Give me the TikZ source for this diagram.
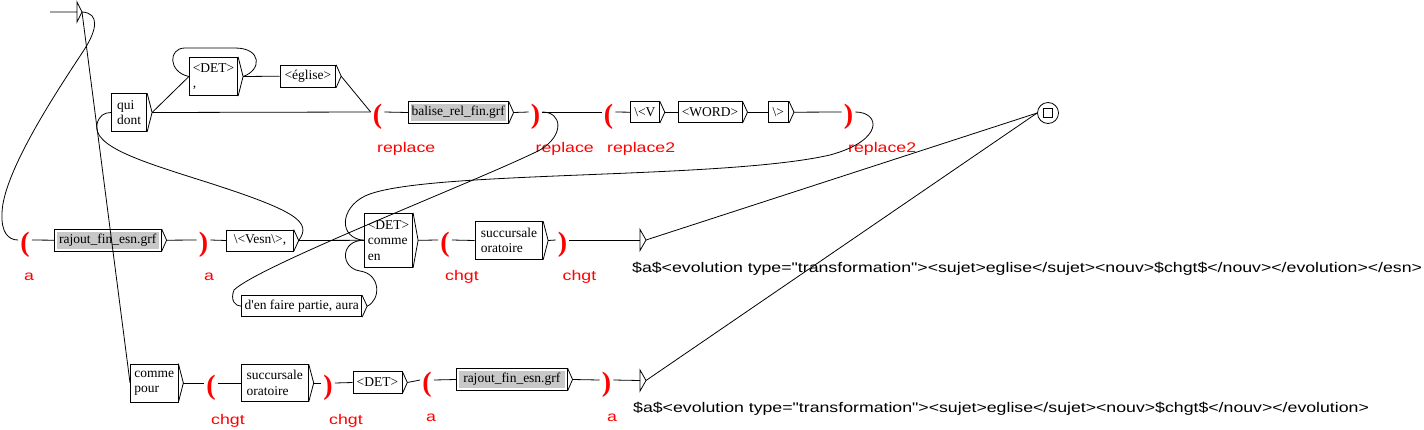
\documentclass[tikz,border=0pt]{standalone}
\usepackage{fontspec}
\newfontfamily\boxfont{Liberation Serif}
\newfontfamily\labfont[FakeStretch=1.265]{Liberation Sans}
\newfontfamily\parfont{Liberation Serif}
\definecolor{gfill}{RGB}{200,200,200}
\tikzset{
  ln/.style={line width=0.8pt},
  ubox/.style={draw, fill=white, line width=0.8pt, inner sep=0pt, align=left,
    font=\boxfont\fontsize{13.5}{15.5}\selectfont},
  gbox/.style={ubox, path picture={\fill[gfill]
      ([xshift=2.5pt,yshift=-2.5pt]path picture bounding box.north west) rectangle
      ([xshift=-2.5pt,yshift=2.5pt]path picture bounding box.south east);}},
  vpar/.style={text=red, inner xsep=2pt, inner ysep=0pt, text height=22.4pt, text depth=0pt,
    font=\parfont\bfseries\fontsize{28}{28}\selectfont},
  vlab/.style={text=red, anchor=base west, inner sep=0pt, font=\labfont\fontsize{14}{16}\selectfont},
  outtxt/.style={anchor=base west, inner sep=0pt, font=\labfont\fontsize{14}{16}\selectfont},
}
\begin{document}
\begin{tikzpicture}[x=1pt, y=-1pt]
\useasboundingbox (0,0) rectangle (1424,429);

% initial state
\coordinate (itip) at (82,12);
\draw[ln] (50,12) -- (77,12) (77,2) -- (itip) -- (77,22) -- cycle;

% top row
\node[ubox, minimum width=35.4pt, minimum height=38pt] (qd) at (129,112.5) {qui\\dont};
\node[ubox, minimum width=48.4pt, minimum height=38.4pt] (det1) at (213.5,76.5) {<DET>\\,};
\node[ubox, minimum width=55.7pt, minimum height=22pt] (eg) at (307.9,76.2) {<église>};
\node[gbox, minimum width=100pt, minimum height=21.6pt] (bal) at (458.2,112.5) {balise\_rel\_fin.grf};
\node[ubox, minimum width=29pt, minimum height=21pt] (vv) at (644.9,112.2) {\textbackslash<V};
\node[ubox, minimum width=64.2pt, minimum height=21pt] (word) at (710,112.2) {<WORD>};
\node[ubox, minimum width=20.4pt, minimum height=21pt] (bs) at (778.4,112.2) {\textbackslash>};

% middle row
\node[gbox, minimum width=107pt, minimum height=21.7pt] (raj1) at (107.7,240.2) {rajout\_fin\_esn.grf};
\node[ubox, minimum width=66.6pt, minimum height=21pt] (vesn) at (260,240.5) {\textbackslash<Vesn\textbackslash>,};
\node[ubox, minimum width=48.4pt, minimum height=54pt] (dce) at (388.5,240.3) {<DET>\\comme\\en};
\node[ubox, minimum width=67.7pt, minimum height=37.6pt] (succ1) at (508.9,240.5) {succursale\\oratoire};
\node[ubox, minimum width=120pt, minimum height=21pt] (dfp) at (301.7,306.2) {d'en faire partie, aura};

% bottom row
\node[ubox, minimum width=47.5pt, minimum height=38pt] (cp) at (154.2,383) {comme\\pour};
\node[ubox, minimum width=67pt, minimum height=37pt] (succ2) at (274.8,383) {succursale\\oratoire};
\node[ubox, minimum width=49pt, minimum height=21.6pt] (det2) at (377.4,382.5) {<DET>};
\node[gbox, minimum width=110.7pt, minimum height=22pt] (raj2) at (511.8,379.5) {rajout\_fin\_esn.grf};

% box arrow tips
\foreach \n in {qd,det1,eg,bal,vv,word,bs,raj1,vesn,dce,succ1,dfp,cp,succ2,det2,raj2}
  \draw[ln] (\n.north east) -- ([xshift=5pt]\n.east) -- (\n.south east);

% variable parentheses
\node[vpar] (pr1) at (377.5,112) {(};
\node[vpar] (cr1) at (535.5,112) {)};
\node[vpar] (pr2) at (608.5,112) {(};
\node[vpar] (cr2) at (848.5,112) {)};
\node[vpar] (pa1) at (25,240) {(};
\node[vpar] (ca1) at (203.5,240) {)};
\node[vpar] (pc1) at (445,240) {(};
\node[vpar] (cc1) at (562.5,240) {)};
\node[vpar] (pc2) at (211,383) {(};
\node[vpar] (cc2) at (328,383) {)};
\node[vpar] (pa2) at (427,380) {(};
\node[vpar] (ca2) at (606.5,380) {)};

% variable names
\node[vlab] (lr1) at (377,152.5) {replace};
\node[vlab] (lr2) at (535.5,152.5) {replace};
\node[vlab] (lr3) at (607,152.5) {replace2};
\node[vlab] (lr4) at (848,152.5) {replace2};
\node[vlab] (la1) at (24,280.5) {a};
\node[vlab] (la2) at (204,280.5) {a};
\node[vlab] (lc1) at (445,280.5) {chgt};
\node[vlab] (lc2) at (562.5,280.5) {chgt};
\node[vlab] (lc3) at (211,424) {chgt};
\node[vlab] (lc4) at (329,424) {chgt};
\node[vlab] (la3) at (426,421.5) {a};
\node[vlab] (la4) at (607,421.5) {a};

% output boxes
\coordinate (o1) at (640,240);
\coordinate (o1t) at (646,240);
\draw[ln] (640,229.5) -- (o1t) -- (640,250.5) -- cycle;
\node[outtxt] (t1) at (632,272) {\$a\$<evolution type="transformation"><sujet>eglise</sujet><nouv>\$chgt\$</nouv></evolution></esn>};
\coordinate (o2) at (640,380.5);
\coordinate (o2t) at (646,380.5);
\draw[ln] (640,370) -- (o2t) -- (640,391) -- cycle;
\node[outtxt] (t2) at (633,412.5) {\$a\$<evolution type="transformation"><sujet>eglise</sujet><nouv>\$chgt\$</nouv></evolution>};

% final state
\node[circle, draw, ln, minimum size=21pt, inner sep=0pt] (fin) at (1048,113) {};
\node[draw, ln, minimum size=9pt, inner sep=0pt] (finsq) at (fin.center) {};

% connectors from initial state
\draw[ln] (itip) -- (cp.west);
\draw[ln] (itip) .. controls (100,13) and (97,30) .. (84,50)
  .. controls (64.5,80) and (3,170) .. (2,213)
  .. controls (1,232) and (8,240) .. (pa1.west);

% top connectors
\draw[ln] ([xshift=5pt]qd.east) -- (det1.west);
\draw[ln] ([xshift=5pt]qd.east) -- (pr1.west);
\draw[ln] ([xshift=5pt]det1.east) .. controls (262,70) and (262,48) .. (235,48) -- (185,48)
  .. controls (168,48) and (168,72) .. (det1.west);
\draw[ln] ([xshift=5pt]det1.east) -- (eg.west);
\draw[ln] ([xshift=5pt]eg.east) -- (pr1.west);
\draw[ln] (pr1.east) -- (bal.west);
\draw[ln] ([xshift=5pt]bal.east) -- (cr1.west);
\draw[ln] (cr1.east) -- (pr2.west);
\draw[ln] (pr2.east) -- (vv.west);
\draw[ln] ([xshift=5pt]vv.east) -- (word.west);
\draw[ln] ([xshift=5pt]word.east) -- (bs.west);
\draw[ln] ([xshift=5pt]bs.east) -- (cr2.west);
\draw[ln] (cr1.east) .. controls (562,112) and (565,135) .. (540,150)
  .. controls (480,180) and (260,265) .. (234,290)
  .. controls (230,300) and (235,306.2) .. (dfp.west);
\draw[ln] (cr2.east) .. controls (880,112) and (885,140) .. (830,155)
  .. controls (720,180) and (420,170) .. (365,196)
  .. controls (340,208) and (338,238) .. (dce.west);

% middle connectors
\draw[ln] (pa1.east) -- (raj1.west);
\draw[ln] ([xshift=5pt]raj1.east) -- (ca1.west);
\draw[ln] (ca1.east) -- (vesn.west);
\draw[ln] ([xshift=5pt]vesn.east) -- (dce.west);
\draw[ln] ([xshift=5pt]vesn.east) .. controls (312,222) and (298,211) .. (200,180)
  .. controls (140,161) and (92,146) .. (97,124)
  .. controls (99,116) and (104,112.5) .. (qd.west);
\draw[ln] ([xshift=5pt]dfp.east) .. controls (381,300) and (381,274) .. (360,271)
  .. controls (340,268) and (340,240) .. (dce.west);
\draw[ln] ([xshift=5pt]dce.east) -- (pc1.west);
\draw[ln] (pc1.east) -- (succ1.west);
\draw[ln] ([xshift=5pt]succ1.east) -- (cc1.west);
\draw[ln] (cc1.east) -- (o1);
\draw[ln] (o1t) -- (fin.west);

% bottom connectors
\draw[ln] ([xshift=5pt]cp.east) -- (pc2.west);
\draw[ln] (pc2.east) -- (succ2.west);
\draw[ln] ([xshift=5pt]succ2.east) -- (cc2.west);
\draw[ln] (cc2.east) -- (det2.west);
\draw[ln] ([xshift=5pt]det2.east) -- (pa2.west);
\draw[ln] (pa2.east) -- (raj2.west);
\draw[ln] ([xshift=5pt]raj2.east) -- (ca2.west);
\draw[ln] (ca2.east) -- (o2);
\draw[ln] (o2t) -- (fin.west);
\end{tikzpicture}
\end{document}
